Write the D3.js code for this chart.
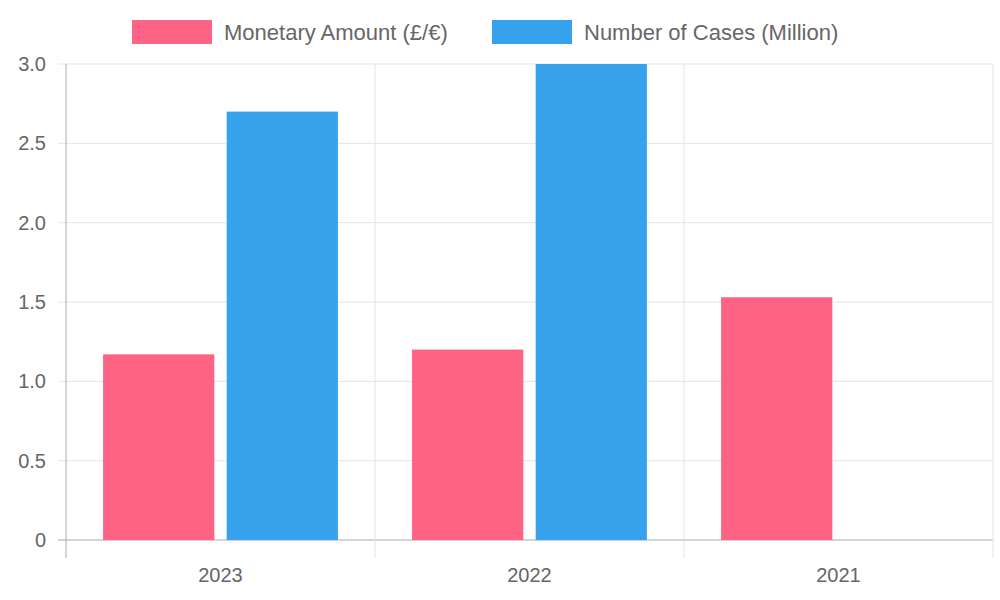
<!DOCTYPE html>
<html><head><meta charset="utf-8">
<script src="https://cdn.jsdelivr.net/npm/d3@7"></script>
<style>body{margin:0;background:#fff}svg{font-family:"Liberation Sans",Arial,sans-serif}</style>
</head><body><svg id="c" width="1000" height="600"></svg>
<script>
const categories = ["2023","2022","2021"];
const seriesNames = ["Monetary Amount (£/€)","Number of Cases (Million)"];
const monetary = [1.17, 1.2, 1.53];
const cases = [2.7, 3.0, null];
const yTicks = [0,0.5,1.0,1.5,2.0,2.5,3.0];
const colors = ["#ff6384","#36a2eb"];

const svg = d3.select("#c");
const L=66,R=993,T=64,B=540;
const x = d3.scaleBand().domain(categories).range([L,R]);
const y = d3.scaleLinear().domain([0,3]).range([B,T]);
const inner = d3.scaleBand().domain([0,1]).range([0,x.bandwidth()*0.8]);
const bw = inner.bandwidth()*0.9;

// grid
svg.selectAll(".gy").data(yTicks).enter().append("line")
 .attr("x1",L-8).attr("x2",R).attr("y1",d=>y(d)).attr("y2",d=>y(d))
 .attr("stroke",d=>d===0?"#aaa":"#e5e5e5");
const bounds = categories.map(c=>x(c)).concat([R]);
svg.selectAll(".gx").data(bounds).enter().append("line")
 .attr("x1",d=>d).attr("x2",d=>d).attr("y1",T).attr("y2",B+18)
 .attr("stroke",(d,i)=>i===0?"#aaa":"#e5e5e5");

// labels
svg.selectAll(".yl").data(yTicks).enter().append("text")
 .attr("x",L-20).attr("y",d=>y(d)).attr("dy","0.35em").attr("text-anchor","end")
 .attr("fill","#666").attr("font-size",20).text(d=>d===0?"0":d.toFixed(1));
svg.selectAll(".xl").data(categories).enter().append("text")
 .attr("x",d=>x(d)+x.bandwidth()/2).attr("y",582).attr("text-anchor","middle")
 .attr("fill","#666").attr("font-size",20).text(d=>d);

// bars
[monetary,cases].forEach((s,si)=>{
 svg.selectAll(".b"+si).data(categories.map((c,i)=>({c,v:s[i]})).filter(d=>d.v!=null))
  .enter().append("rect")
  .attr("x",d=>x(d.c)+x.bandwidth()*0.1+inner(si)+(inner.bandwidth()-bw)/2)
  .attr("width",bw).attr("y",d=>y(d.v)).attr("height",d=>B-y(d.v))
  .attr("fill",colors[si]);
});

// legend
const lx=[132,492];
seriesNames.forEach((n,i)=>{
 svg.append("rect").attr("x",lx[i]).attr("y",20).attr("width",80).attr("height",24).attr("fill",colors[i]);
 svg.append("text").attr("x",lx[i]+92).attr("y",32).attr("dy","0.35em").attr("fill","#666")
  .attr("font-size",22).text(n);
});
</script></body></html>
